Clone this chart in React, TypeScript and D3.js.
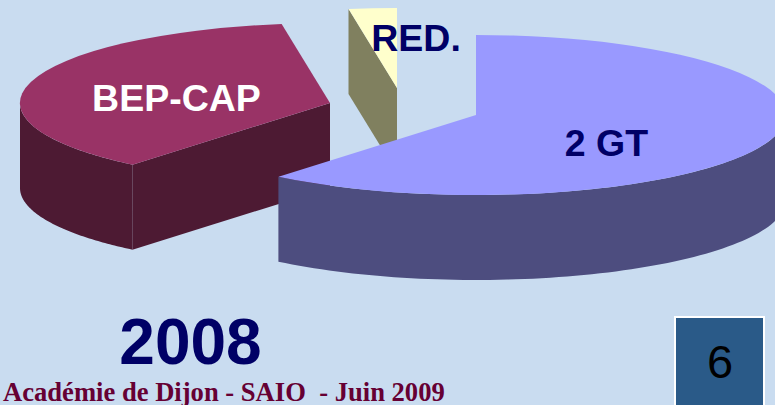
import React from "react";
import * as d3 from "d3";

const categories = ["2 GT", "BEP-CAP", "RED."];
const shares = [61.0, 36.5, 2.5];
const topColours = ["#9999ff", "#993366", "#ffffcc"];
const sideColours = ["#4d4d7f", "#4d1a33", "#80805f"];
const apexes: [number, number][] = [[476, 115], [330, 103], [397, 88]];
const labelInk = ["#000066", "#ffffff", "#000066"];
const labelSpots: [number, number][] = [[606.5, 156], [176.5, 111], [416, 51]];

const RX = 310;
const RY = 80;
const DEPTH = 85;

const arcs = d3.pie<number>().sort(null).value((d) => d)(shares);
const unitArc = d3.arc<d3.PieArcDatum<number>>().innerRadius(0).outerRadius(1);
const lineGen = d3.line<[number, number]>();

function rim(a0: number, a1: number, ax: number, ay: number): [number, number][] {
  const steps = d3.range(0, 81).map((i) => a0 + ((a1 - a0) * i) / 80);
  return steps.map((t) => [ax + RX * Math.sin(t), ay - RY * Math.cos(t)] as [number, number]);
}

function outerWall(a0: number, a1: number, ax: number, ay: number) {
  // only the front half of the rim (angles PI/2 .. 3PI/2) is visible
  const s = Math.max(a0, Math.PI / 2);
  const e = Math.min(a1, (3 * Math.PI) / 2);
  if (e <= s) return null;
  const upper = rim(s, e, ax, ay);
  const lower = upper.slice().reverse().map(([x, y]) => [x, y + DEPTH] as [number, number]);
  return lineGen([...upper, ...lower]) + "Z";
}

function cutWall(angle: number, ax: number, ay: number) {
  const [p] = rim(angle, angle, ax, ay);
  const pts: [number, number][] = [[ax, ay], p, [p[0], p[1] + DEPTH], [ax, ay + DEPTH]];
  return lineGen(pts) + "Z";
}

function Slice({ i }: { i: number }) {
  const a = arcs[i];
  const [ax, ay] = apexes[i];
  const wall = outerWall(a.startAngle, a.endAngle, ax, ay);
  return (
    <g>
      {i > 0 && <path d={cutWall(a.startAngle, ax, ay)} fill={sideColours[i]} />}
      {wall && <path d={wall} fill={sideColours[i]} />}
      <path
        d={unitArc(a) ?? ""}
        transform={`translate(${ax},${ay}) scale(${RX},${RY})`}
        fill={topColours[i]}
      />
    </g>
  );
}

export default function App() {
  return (
    <svg
      width={775}
      height={405}
      viewBox="0 0 775 405"
      style={{ position: "fixed", left: 0, top: 0, display: "block" }}
    >
      <rect width={775} height={405} fill="#c9dcf0" />
      <Slice i={2} />
      <Slice i={1} />
      <Slice i={0} />
      {categories.map((c, i) => (
        <text
          key={c}
          x={labelSpots[i][0]}
          y={labelSpots[i][1]}
          textAnchor="middle"
          fontFamily="Liberation Sans, Arial, sans-serif"
          fontWeight="bold"
          fontSize={37.5}
          fill={labelInk[i]}
        >
          {c}
        </text>
      ))}
      <text
        x={190.5}
        y={364}
        textAnchor="middle"
        fontFamily="Liberation Sans, Arial, sans-serif"
        fontWeight="bold"
        fontSize={64}
        fill="#000066"
      >
        2008
      </text>
      <text
        x={3}
        y={401}
        fontFamily="Liberation Serif, Times New Roman, serif"
        fontWeight="bold"
        fontSize={26.6}
        fill="#660033"
      >
        {"Académie de Dijon - SAIO\u00a0 - Juin 2009"}
      </text>
      <rect x={675} y={317} width={89} height={92} fill="#2a5a88" stroke="#ffffff" strokeWidth={2} />
      <text
        x={720}
        y={378}
        textAnchor="middle"
        fontFamily="Liberation Sans, Arial, sans-serif"
        fontSize={47}
        fill="#000000"
      >
        6
      </text>
    </svg>
  );
}
